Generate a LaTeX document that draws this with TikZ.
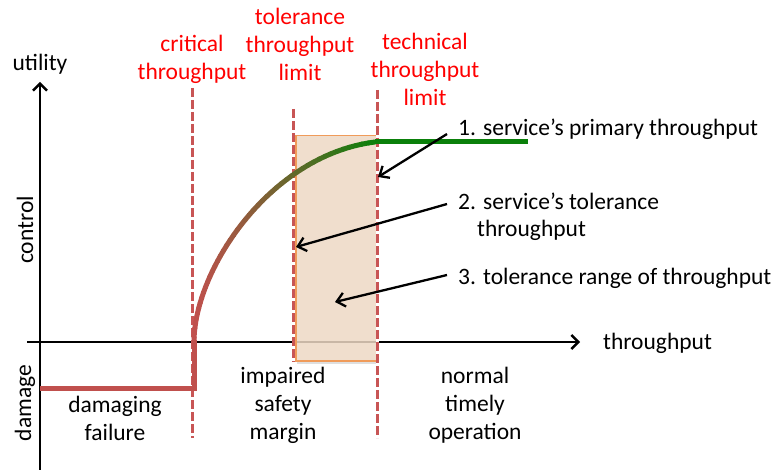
\documentclass[tikz,border=0pt]{standalone}
\usepackage{fontspec}
\setmainfont{Carlito}
\usetikzlibrary{arrows.meta}
\definecolor{cred}{RGB}{192,80,77}
\definecolor{dashred}{RGB}{200,85,85}
\definecolor{cgreen}{RGB}{10,128,10}
\definecolor{boxfill}{RGB}{237,216,196}
\definecolor{boxline}{RGB}{240,155,90}
\definecolor{labred}{RGB}{255,0,0}
\begin{document}
\begin{tikzpicture}[x=1pt,y=-1pt,
  every node/.style={inner sep=0pt,font=\fontsize{23.5}{28}\selectfont},
  axisline/.style={line width=2.4pt,-{Straight Barb[length=7pt,width=14pt,line width=2.4pt]}},
  annarrow/.style={line width=2.3pt,-{Straight Barb[length=8pt,width=14pt,line width=2.3pt]}},
  limitline/.style={dashred,line width=3pt,dash pattern=on 9pt off 3pt},
  limitback/.style={white,line width=3pt},
  redlabel/.style={labred,align=center},
  blacklabel/.style={align=center},
  utilline/.style={line width=5pt}
]
\useasboundingbox (0,0) rectangle (775,470);
% axes
\coordinate (ybot) at (40,470);
\coordinate (ytop) at (40,82);
\coordinate (xleft) at (27,342);
\coordinate (xright) at (580,342);
\draw[axisline] (ybot) -- (ytop);
\draw[axisline] (xleft) -- (xright);
% tolerance range box
\fill[gray!25] (297,360) rectangle (378,364);
\node[draw=boxline,line width=1.5pt,fill=boxfill,fill opacity=0.85,minimum width=81pt,minimum height=225pt,anchor=north west] (range) at (295,135) {};
% limit lines
\coordinate (crittop) at (192,88);
\coordinate (critbot) at (192,438);
\coordinate (toltop) at (293,109);
\coordinate (tolbot) at (293,362);
\coordinate (techtop) at (377,90);
\coordinate (techbot) at (377,438);
\foreach \a/\b in {crittop/critbot,toltop/tolbot,techtop/techbot}{
  \draw[limitback] (\a) -- (\b);
  \draw[limitline] (\a) -- (\b);
}
% utility curve
\coordinate (dstart) at (40,388);
\coordinate (dcorner) at (194,388);
\coordinate (cstart) at (194,340);
\coordinate (cend) at (375,142);
\coordinate (gend) at (528,142);
\draw[utilline,cred,line join=miter] (dstart) -- (dcorner) -- (cstart);
\foreach \i in {0,...,47}{
  \pgfmathsetmacro{\ta}{\i/48}
  \pgfmathsetmacro{\tb}{(\i+1)/48}
  \pgfmathsetmacro{\xa}{(1-\ta)^3*194+3*(1-\ta)^2*\ta*194+3*(1-\ta)*\ta^2*270+\ta^3*375}
  \pgfmathsetmacro{\ya}{(1-\ta)^3*342+3*(1-\ta)^2*\ta*270+3*(1-\ta)*\ta^2*155+\ta^3*142}
  \pgfmathsetmacro{\xb}{(1-\tb)^3*194+3*(1-\tb)^2*\tb*194+3*(1-\tb)*\tb^2*270+\tb^3*375}
  \pgfmathsetmacro{\yb}{(1-\tb)^3*342+3*(1-\tb)^2*\tb*270+3*(1-\tb)*\tb^2*155+\tb^3*142}
  \pgfmathtruncatemacro{\p}{100*((\i+0.5)/48)^2}
  \draw[utilline,line cap=round,color=cgreen!\p!cred] (\xa,\ya) -- (\xb,\yb);
}
\draw[utilline,cgreen] (cend) -- (gend);
% axis labels
\node[anchor=base] (utility) at (40,71) {utility};
\node[anchor=base west] (thr) at (603,349) {throughput};
\node[rotate=90] (control) at (25,230) {control};
\node[rotate=90] (damage) at (25,403) {damage};
% red limit labels
\node[redlabel] (critlab) at (192,59) {critical\\throughput};
\node[redlabel] (tollab) at (300,44) {tolerance\\throughput\\limit};
\node[redlabel] (techlab) at (425,69) {technical\\throughput\\limit};
% region labels
\node[blacklabel] (dmg) at (115,418) {damaging\\failure};
\node[blacklabel] (imp) at (283,405) {impaired\\safety\\margin};
\node[blacklabel] (norm) at (475,405) {normal\\timely\\operation};
% annotations
\node[anchor=base west] (ann1) at (458,136) {1. service’s primary throughput};
\node[anchor=base west] (ann2) at (458,209) {2. service’s tolerance};
\node[anchor=base west] (ann2b) at (477,236) {throughput};
\node[anchor=base west] (ann3) at (458,284) {3. tolerance range of throughput};
\coordinate (a1s) at (447,134);
\coordinate (a1e) at (378,177);
\coordinate (a2s) at (447,204);
\coordinate (a2e) at (296,247);
\coordinate (a3s) at (447,275);
\coordinate (a3e) at (335,302);
\draw[annarrow] (a1s) -- (a1e);
\draw[annarrow] (a2s) -- (a2e);
\draw[annarrow] (a3s) -- (a3e);
\end{tikzpicture}
\end{document}
